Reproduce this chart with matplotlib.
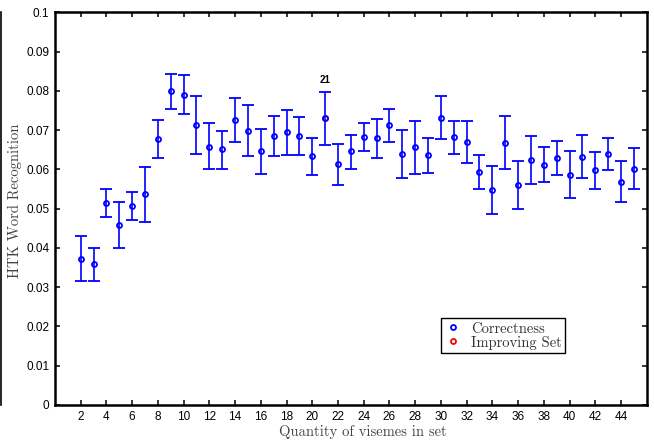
import matplotlib
matplotlib.use("Agg")
import matplotlib.pyplot as plt
from matplotlib.lines import Line2D
import numpy as np

# quantity of visemes in set
sets = list(range(2, 46))
# mean correctness
correct = [0.0373, 0.0358, 0.0514, 0.0459, 0.0507, 0.0537, 0.0678, 0.0799, 0.0790, 0.0713,
           0.0658, 0.0651, 0.0726, 0.0698, 0.0646, 0.0684, 0.0695, 0.0685, 0.0634, 0.0730,
           0.0613, 0.0646, 0.0682, 0.0679, 0.0712, 0.0640, 0.0656, 0.0636, 0.0732, 0.0682,
           0.0670, 0.0593, 0.0547, 0.0667, 0.0561, 0.0623, 0.0612, 0.0629, 0.0586, 0.0632,
           0.0598, 0.0640, 0.0569, 0.0602]
# error bar ends
upper = [0.0430, 0.0400, 0.0549, 0.0517, 0.0543, 0.0605, 0.0725, 0.0843, 0.0841, 0.0786,
         0.0717, 0.0699, 0.0781, 0.0764, 0.0703, 0.0735, 0.0752, 0.0734, 0.0680, 0.0797,
         0.0664, 0.0688, 0.0718, 0.0729, 0.0755, 0.0701, 0.0722, 0.0680, 0.0787, 0.0724,
         0.0723, 0.0637, 0.0608, 0.0735, 0.0622, 0.0684, 0.0658, 0.0673, 0.0646, 0.0688,
         0.0645, 0.0681, 0.0621, 0.0655]
lower = [0.0316, 0.0316, 0.0479, 0.0401, 0.0470, 0.0467, 0.0628, 0.0754, 0.0740, 0.0640,
         0.0601, 0.0602, 0.0671, 0.0633, 0.0587, 0.0634, 0.0636, 0.0636, 0.0586, 0.0662,
         0.0561, 0.0602, 0.0646, 0.0628, 0.0669, 0.0578, 0.0588, 0.0592, 0.0677, 0.0639,
         0.0616, 0.0550, 0.0486, 0.0601, 0.0499, 0.0562, 0.0567, 0.0586, 0.0526, 0.0578,
         0.0550, 0.0599, 0.0517, 0.0549]
best = 21

x = np.array(sets)
y = np.array(correct)
err = [y - np.array(lower), np.array(upper) - y]

fig = plt.figure(figsize=(6.54, 4.43), dpi=100)
ax = fig.add_axes([0.0841, 0.0858, 0.9047, 0.8864])

ax.errorbar(x, y, yerr=err, fmt='o', color='#0000ff', mfc='none', mec='#0000ff',
            ms=3.6, mew=1.3, elinewidth=1.2, capsize=4, capthick=1.2)
i = sets.index(best)
ax.plot(best, correct[i], 'o', mfc='none', mec='#ff0000', ms=3.6, mew=1.3)
ax.annotate(str(best), xy=(best, upper[i]), xytext=(0, 9), textcoords='offset points',
            ha='center', va='center', fontsize=7, fontweight='bold',
            family='Liberation Sans')

ax.set_xlim(0, 46)
ax.set_ylim(0, 0.1)
ax.set_xticks(range(2, 45, 2))
ax.set_yticks(np.arange(0, 0.1001, 0.01))
ax.set_yticklabels(['0', '0.01', '0.02', '0.03', '0.04', '0.05', '0.06', '0.07', '0.08', '0.09', '0.1'])
for lab in ax.get_xticklabels() + ax.get_yticklabels():
    lab.set_family('Liberation Sans')
    lab.set_fontsize(8.5)
ax.tick_params(direction='in', length=3.6, width=1.1, top=True, right=True, pad=4)
for s in ax.spines.values():
    s.set_linewidth(1.8)

ax.set_xlabel('Quantity of visemes in set', family='cmr10', fontsize=10.5, color='#444444')
ax.xaxis.set_label_coords(0.521, -0.05)
ax.set_ylabel('HTK Word Recognition', family='cmr10', fontsize=10.5, color='#444444')
ax.yaxis.set_label_coords(-0.056, 0.52)

handles = [Line2D([], [], ls='none', marker='o', mfc='none', mec='#0000ff', ms=3.6, mew=1.3),
           Line2D([], [], ls='none', marker='o', mfc='none', mec='#ff0000', ms=3.6, mew=1.3)]
leg = ax.legend(handles, ['Correctness', 'Improving Set'], loc='lower left',
                bbox_to_anchor=(0.652, 0.132), borderaxespad=0, fancybox=False,
                framealpha=1, edgecolor='black', handlelength=1.2, handletextpad=0.6,
                borderpad=0.25, labelspacing=0.0, prop={'family': 'cmr10', 'size': 10.5})
leg.get_frame().set_linewidth(1.0)
for t in leg.get_texts():
    t.set_color('#333333')

# stray edge line on the left of the figure
fig.add_artist(Line2D([0.002, 0.002], [0.0858, 0.972], color='black', lw=1.2))

fig.savefig('out.png', dpi=100)
